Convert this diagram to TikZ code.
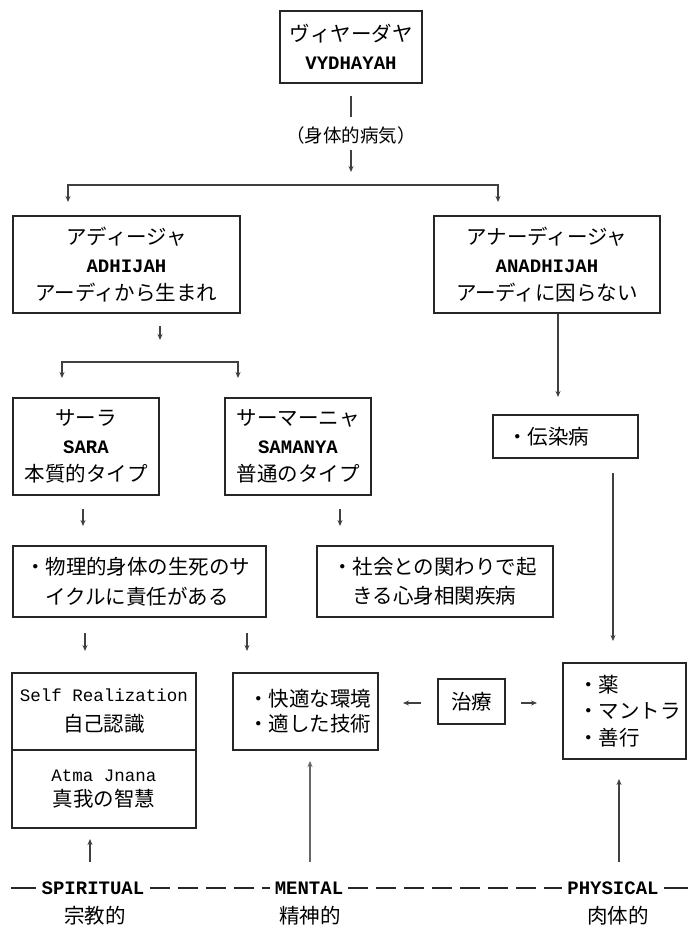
\documentclass[tikz,border=0pt]{standalone}
\usepackage{fontspec}
\setmainfont{Noto Sans CJK JP}
\newfontfamily\latfam{Liberation Mono}
\usetikzlibrary{arrows.meta}
\newcommand{\jpf}{\fontsize{20.5pt}{28pt}\selectfont}
\newcommand{\latb}{\latfam\bfseries\fontsize{19pt}{28pt}\selectfont}
\newcommand{\latr}{\latfam\fontsize{17.5pt}{28pt}\selectfont}
\begin{document}
\begin{tikzpicture}[x=1pt,y=-1pt,
  box/.style={draw=black!85,line width=2pt,inner sep=0pt,align=center,font=\jpf},
  lbox/.style={box,align=left},
  conn/.style={draw=black!75,line width=1.3pt},
  arr/.style={conn,-{Stealth[length=6pt,width=5pt]}},
  lab/.style={inner xsep=5pt,inner ysep=0pt,text height=13pt,text depth=0pt,font=\latb},
  jlab/.style={inner sep=0pt,font=\jpf},
  dashln/.style={line width=2.6pt,draw=black!85,dash pattern=on 20pt off 8pt},
  endln/.style={line width=2.6pt,draw=black!85}]
\useasboundingbox (0,0) rectangle (688,927);

% boxes
\node[box,minimum width=142pt,minimum height=72pt] (top) at (351,47) {ヴィヤーダヤ\\{\latb VYDHAYAH}};
\node[jlab,font=\fontsize{18.5pt}{24pt}\selectfont] (sick) at (351,135) {（身体的病気）};
\coordinate (split) at (351,185);

\node[box,minimum width=227pt,minimum height=97pt] (adhi) at (126.5,264.5) {アディージャ\\{\latb ADHIJAH}\\アーディから生まれ};
\node[box,minimum width=226pt,minimum height=97pt] (anadhi) at (547,264.5) {アナーディージャ\\{\latb ANADHIJAH}\\アーディに因らない};

\coordinate (split2) at (160,362);
\node[box,minimum width=146pt,minimum height=97pt] (sara) at (86,446.5) {サーラ\\{\latb SARA}\\本質的タイプ};
\node[box,minimum width=146pt,minimum height=97pt] (samanya) at (298,446.5) {サーマーニャ\\{\latb SAMANYA}\\普通のタイプ};

\node[lbox,minimum width=145pt,minimum height=43pt,text width=117pt] (densen) at (565.5,436.5) {・伝染病};

\node[lbox,font=\fontsize{20.5pt}{30pt}\selectfont,minimum width=253pt,minimum height=71pt,text width=229pt] (butsuri) at (139.5,581.5) {・物理的身体の生死のサ\\\hphantom{・}イクルに責任がある};
\node[lbox,font=\fontsize{20.5pt}{29pt}\selectfont,minimum width=236pt,minimum height=71pt,text width=206pt] (shakai) at (435,581.5) {・社会との関わりで起\\\hphantom{・}きる心身相関疾病};

\node[box,font=\fontsize{20.5pt}{30pt}\selectfont,minimum width=184pt,minimum height=77pt] (selfA) at (104,711.5) {{\latr Self Realization}\\自己認識};
\node[box,font=\fontsize{20.5pt}{25pt}\selectfont,minimum width=184pt,minimum height=78pt] (selfB) at (104,789) {{\latr Atma Jnana}\\真我の智慧};

\node[lbox,font=\fontsize{20.5pt}{25pt}\selectfont,minimum width=145pt,minimum height=77pt,text width=115pt] (kaiteki) at (305.5,711.5) {・快適な環境\\・適した技術};
\node[box,minimum width=67pt,minimum height=45pt] (chiryo) at (471.5,701.5) {治療};
\node[lbox,font=\fontsize{20.5pt}{26.5pt}\selectfont,minimum width=123pt,minimum height=96pt,text width=93pt] (kusuri) at (624.5,711) {・薬\\・マントラ\\・善行};

% bottom labels
\node[lab] (spir) at (93,888) {SPIRITUAL};
\node[lab] (ment) at (309,888) {MENTAL};
\node[lab] (phys) at (613,888) {PHYSICAL};
\node[jlab] (jspir) at (95,916) {宗教的};
\node[jlab] (jment) at (310,916) {精神的};
\node[jlab] (jphys) at (618,916) {肉体的};
\coordinate (dl) at (11,888);
\coordinate (dr) at (688,888);

% connectors
\draw[conn,shorten <=12pt,shorten >=9pt] (top.south) -- (sick.north);
\draw[arr,shorten <=6pt,shorten >=13pt] (sick.south) -- (split);
\draw[arr,shorten >=13pt] (split) -| ([xshift=-58.5pt]adhi.north);
\draw[arr,shorten >=13pt] (split) -| ([xshift=-49pt]anadhi.north);

\draw[arr,shorten <=12pt,shorten >=22pt] ([xshift=33.5pt]adhi.south) -- (split2);
\draw[arr,shorten >=19pt] (split2) -| ([xshift=-24pt]sara.north);
\draw[arr,shorten >=19pt] (split2) -| ([xshift=-60pt]samanya.north);

\draw[arr,shorten >=17pt] ([xshift=11pt]anadhi.south) -- ([xshift=-7.5pt]densen.north);
\draw[arr,shorten <=14pt,shorten >=21pt] ([xshift=47.5pt]densen.south) -- ([xshift=-11.5pt]kusuri.north);

\draw[arr,shorten <=13pt,shorten >=19pt] ([xshift=-3pt]sara.south) -- ([xshift=-56.5pt]butsuri.north);
\draw[arr,shorten <=13pt,shorten >=19pt] ([xshift=42pt]samanya.south) -- ([xshift=-95pt]shakai.north);

\draw[arr,shorten <=15pt,shorten >=21pt] ([xshift=-54.5pt]butsuri.south) -- ([xshift=-19pt]selfA.north);
\draw[arr,shorten <=15pt,shorten >=21pt] ([xshift=107.5pt]butsuri.south) -- ([xshift=-58.5pt]kaiteki.north);

\draw[arr,shorten <=16pt,shorten >=24pt] ([yshift=-1.5pt]chiryo.west) -- ([yshift=-1.5pt]chiryo.west -| kaiteki.east);
\draw[arr,shorten <=15pt,shorten >=25pt] ([yshift=-1.5pt]chiryo.east) -- ([yshift=-1.5pt]chiryo.east -| kusuri.west);

\draw[arr,shorten <=19.5pt,shorten >=10pt] ([xshift=-3pt]spir.north) -- ([xshift=-14pt]selfB.south);
\draw[arr,line width=2pt,draw=black!60,shorten <=19.5pt,shorten >=10pt] ([xshift=1pt]ment.north) -- ([xshift=4.5pt]kaiteki.south);
\draw[arr,line width=1.8pt,shorten <=19.5pt,shorten >=19pt] ([xshift=6pt]phys.north) -- ([xshift=-5.5pt]kusuri.south);

% dashed level line
\draw[endln] (dl) -- (spir.west);
\draw[dashln] (spir.east) -- (ment.west);
\draw[dashln] (ment.east) -- (phys.west);
\draw[endln] (phys.east) -- (dr);
\end{tikzpicture}
\end{document}
